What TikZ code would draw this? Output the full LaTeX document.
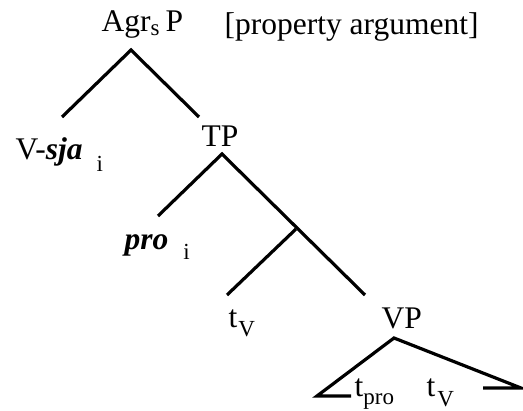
\documentclass[tikz,border=0pt]{standalone}
\usepackage{fontspec}
\setmainfont{Liberation Serif}
\newcommand{\lowidx}[2]{\raisebox{#1}{\fontsize{23}{23}\selectfont #2}}

\begin{document}
\begin{tikzpicture}[x = 1pt, y = -1pt, line width = 3.2pt]
    \tikzstyle{label} = [anchor = base west, inner sep = 0pt, font = \fontsize{31.5}{36}\selectfont]
    \useasboundingbox (0,0) rectangle (523,411);

    \node[label] (agrsp) at (100,32) {Agr\lowidx{-4pt}{s}\hspace{6pt}P};
    \node[label] (note) at (223,35) {[property argument]};
    \node[label] (vsja) at (14,160) {V-\textbf{\textit{sja}}\hspace{14pt}\lowidx{-12pt}{i}};
    \node[label] (tp) at (200,147) {TP};
    \node[label] (pro) at (123,250) {\textbf{\textit{pro}}\hspace{15pt}\lowidx{-10pt}{i}};
    \node[label] (tv) at (227,328) {t\hspace{1pt}\lowidx{-9pt}{V}};
    \node[label] (vp) at (380,329) {VP};
    \node[label] (tpro) at (353,397) {t\lowidx{-8pt}{pro}};
    \node[label] (tv2) at (425,397) {t\hspace{2pt}\lowidx{-10pt}{V}};

    \coordinate (agrsTop) at (131,50);
    \coordinate (agrsL) at (62,117);
    \coordinate (agrsR) at (199,117);
    \coordinate (tpTop) at (222,154);
    \coordinate (tpL) at (158,216);
    \coordinate (tpR) at (365,295);
    \coordinate (tbar) at (296,229);
    \coordinate (tbarL) at (227,295);
    \coordinate (vpTop) at (394,338);
    \coordinate (vpL) at (317,396);
    \coordinate (vpLend) at (351,396);
    \coordinate (vpR) at (521,388);
    \coordinate (vpRend) at (483,388);

    \draw (agrsL) -- (agrsTop) -- (agrsR);
    \draw (tpL) -- (tpTop) -- (tpR);
    \draw (tbarL) -- (tbar);
    \draw (vpLend) -- (vpL) -- (vpTop) -- (vpR) -- (vpRend);
\end{tikzpicture}
\end{document}
